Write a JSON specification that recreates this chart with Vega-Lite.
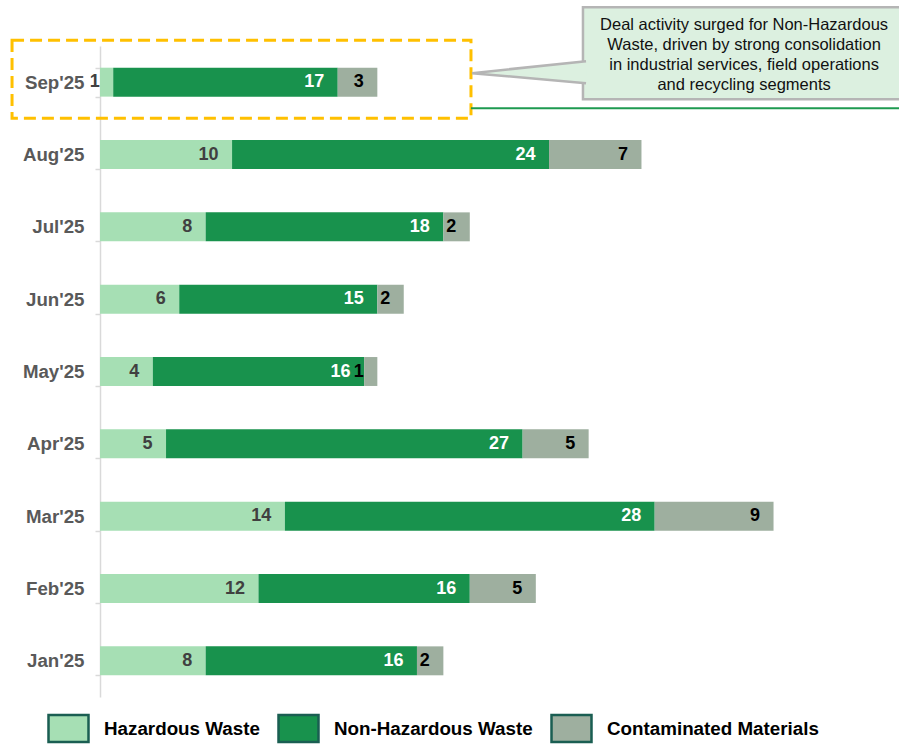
{
  "$schema": "https://vega.github.io/schema/vega-lite/v6.json",
  "width": 799,
  "height": 651,
  "autosize": {"type": "none"},
  "padding": {"left": 100, "top": 46, "right": 0, "bottom": 50},
  "config": {"view": {"stroke": null}, "font": "Liberation Sans"},
  "data": {
    "values": [
      {"month": "Sep'25", "category": "Hazardous Waste", "value": 1, "order": 1},
      {"month": "Sep'25", "category": "Non-Hazardous Waste", "value": 17, "order": 2},
      {"month": "Sep'25", "category": "Contaminated Materials", "value": 3, "order": 3},
      {"month": "Aug'25", "category": "Hazardous Waste", "value": 10, "order": 1},
      {"month": "Aug'25", "category": "Non-Hazardous Waste", "value": 24, "order": 2},
      {"month": "Aug'25", "category": "Contaminated Materials", "value": 7, "order": 3},
      {"month": "Jul'25", "category": "Hazardous Waste", "value": 8, "order": 1},
      {"month": "Jul'25", "category": "Non-Hazardous Waste", "value": 18, "order": 2},
      {"month": "Jul'25", "category": "Contaminated Materials", "value": 2, "order": 3},
      {"month": "Jun'25", "category": "Hazardous Waste", "value": 6, "order": 1},
      {"month": "Jun'25", "category": "Non-Hazardous Waste", "value": 15, "order": 2},
      {"month": "Jun'25", "category": "Contaminated Materials", "value": 2, "order": 3},
      {"month": "May'25", "category": "Hazardous Waste", "value": 4, "order": 1},
      {"month": "May'25", "category": "Non-Hazardous Waste", "value": 16, "order": 2},
      {"month": "May'25", "category": "Contaminated Materials", "value": 1, "order": 3},
      {"month": "Apr'25", "category": "Hazardous Waste", "value": 5, "order": 1},
      {"month": "Apr'25", "category": "Non-Hazardous Waste", "value": 27, "order": 2},
      {"month": "Apr'25", "category": "Contaminated Materials", "value": 5, "order": 3},
      {"month": "Mar'25", "category": "Hazardous Waste", "value": 14, "order": 1},
      {"month": "Mar'25", "category": "Non-Hazardous Waste", "value": 28, "order": 2},
      {"month": "Mar'25", "category": "Contaminated Materials", "value": 9, "order": 3},
      {"month": "Feb'25", "category": "Hazardous Waste", "value": 12, "order": 1},
      {"month": "Feb'25", "category": "Non-Hazardous Waste", "value": 16, "order": 2},
      {"month": "Feb'25", "category": "Contaminated Materials", "value": 5, "order": 3},
      {"month": "Jan'25", "category": "Hazardous Waste", "value": 8, "order": 1},
      {"month": "Jan'25", "category": "Non-Hazardous Waste", "value": 16, "order": 2},
      {"month": "Jan'25", "category": "Contaminated Materials", "value": 2, "order": 3}
    ]
  },
  "encoding": {
    "y": {
      "field": "month",
      "type": "nominal",
      "scale": {
        "domain": ["Sep'25", "Aug'25", "Jul'25", "Jun'25", "May'25", "Apr'25", "Mar'25", "Feb'25", "Jan'25"],
        "paddingInner": 0.6,
        "paddingOuter": 0.3
      },
      "axis": {
        "title": null,
        "grid": false,
        "domainColor": "#d9d9d9",
        "domainWidth": 1.5,
        "tickColor": "#d9d9d9",
        "tickWidth": 1.5,
        "tickSize": 5,
        "tickBand": "extent",
        "labelFont": "Liberation Sans",
        "labelFontSize": 18.7,
        "labelFontWeight": "bold",
        "labelColor": "#595959",
        "labelPadding": 11
      }
    }
  },
  "layer": [
    {
      "transform": [
        {"stack": "value", "groupby": ["month"], "sort": [{"field": "order", "order": "ascending"}], "as": ["x0", "x1"]}
      ],
      "mark": {"type": "bar"},
      "encoding": {
        "x": {"field": "x0", "type": "quantitative", "scale": {"domain": [0, 60.5], "nice": false, "zero": true}, "axis": null},
        "x2": {"field": "x1"},
        "color": {
          "field": "category",
          "type": "nominal",
          "scale": {
            "domain": ["Hazardous Waste", "Non-Hazardous Waste", "Contaminated Materials"],
            "range": ["#a6dfb4", "#18924d", "#9eaf9f"]
          },
          "legend": {
            "title": null,
            "orient": "none",
            "direction": "horizontal",
            "legendX": -53,
            "legendY": 661,
            "padding": 0,
            "symbolType": "M -1 -0.675 H 1 V 0.675 H -1 Z",
            "symbolSize": 1600,
            "symbolStrokeColor": "#1a5e52",
            "symbolStrokeWidth": 2.5,
            "symbolOpacity": 1,
            "labelFont": "Liberation Sans",
            "labelFontSize": 18.8,
            "labelFontWeight": "bold",
            "labelColor": "#000000",
            "labelOffset": 14,
            "labelLimit": 400,
            "columnPadding": 13
          }
        }
      }
    },
    {
      "transform": [
        {"stack": "value", "groupby": ["month"], "sort": [{"field": "order", "order": "ascending"}], "as": ["x0", "x1"]}
      ],
      "mark": {"type": "text", "align": "right", "baseline": "middle", "dx": -13.5, "fontSize": 18, "fontWeight": "bold", "font": "Liberation Sans"},
      "encoding": {
        "x": {"field": "x1", "type": "quantitative"},
        "text": {"field": "value", "type": "quantitative"},
        "color": {
          "condition": [
            {"test": "datum.category === 'Non-Hazardous Waste'", "value": "#ffffff"},
            {"test": "datum.category === 'Hazardous Waste'", "value": "#404040"}
          ],
          "value": "#000000"
        }
      }
    },
    {
      "data": {"values": [{"note": "highlight"}]},
      "mark": {"type": "bar", "height": 78, "yOffset": -3, "fill": "transparent", "stroke": "#FFC000", "strokeWidth": 3, "strokeDash": [12, 6]},
      "encoding": {
        "x": {"datum": -6.66, "type": "quantitative"},
        "x2": {"datum": 28.09},
        "y": {"datum": "Sep'25", "type": "nominal"}
      }
    },
    {
      "data": {"values": [{"note": "box"}]},
      "mark": {"type": "bar", "height": 92, "yOffset": -29, "fill": "#dcf0e0", "stroke": "#b5b5b5", "strokeWidth": 2.5},
      "encoding": {
        "x": {"datum": 36.57, "type": "quantitative"},
        "x2": {"datum": 61.5},
        "y": {"datum": "Sep'25", "type": "nominal"}
      }
    },
    {
      "data": {"values": [{"note": "pointer"}]},
      "mark": {"type": "point", "shape": "M 3.8 -0.4 L 0 0 L 3.8 0.333", "size": 3600, "filled": true, "fill": "#dcf0e0", "stroke": "#b5b5b5", "strokeWidth": 2.5, "opacity": 1, "yOffset": -9},
      "encoding": {
        "x": {"datum": 28.17, "type": "quantitative"},
        "y": {"datum": "Sep'25", "type": "nominal"}
      }
    },
    {
      "data": {"values": [{"note": "text"}]},
      "mark": {"type": "text", "align": "center", "baseline": "middle", "fontSize": 16.5, "lineHeight": 20, "dy": -57, "color": "#111111", "font": "Liberation Sans"},
      "encoding": {
        "x": {"datum": 48.77, "type": "quantitative"},
        "y": {"datum": "Sep'25", "type": "nominal"},
        "text": {"value": ["Deal activity surged for Non-Hazardous", "Waste, driven by strong consolidation", "in industrial services, field operations", "and recycling segments"]}
      }
    },
    {
      "data": {"values": [{"note": "line"}]},
      "mark": {"type": "rule", "color": "#1e9a50", "strokeWidth": 2, "yOffset": 26},
      "encoding": {
        "x": {"datum": 28.09, "type": "quantitative"},
        "x2": {"datum": 61.5},
        "y": {"datum": "Sep'25", "type": "nominal"}
      }
    }
  ]
}
